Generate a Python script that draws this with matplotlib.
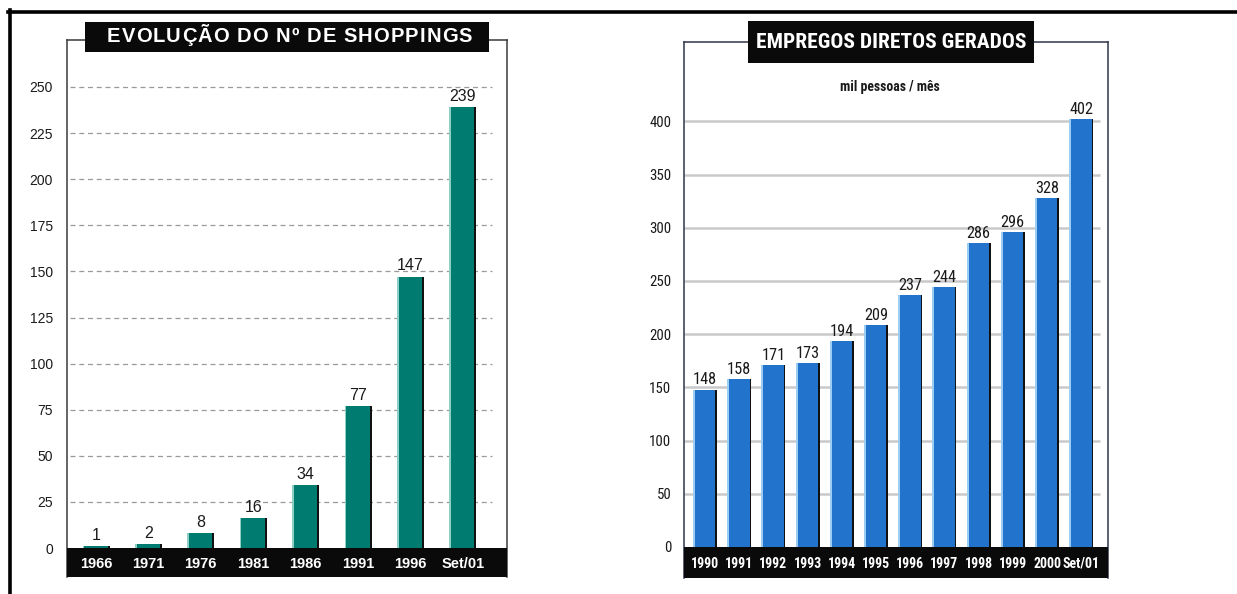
import matplotlib
matplotlib.use("Agg")
import matplotlib.pyplot as plt
from matplotlib import font_manager
from matplotlib.font_manager import FontProperties
from matplotlib.lines import Line2D
from matplotlib.patches import Rectangle
from matplotlib.textpath import TextToPath

W, H, DPI = 1237, 594, 100

shop_years = ["1966", "1971", "1976", "1981", "1986", "1991", "1996", "Set/01"]
shop_counts = [1, 2, 8, 16, 34, 77, 147, 239]
shop_ticks = [0, 25, 50, 75, 100, 125, 150, 175, 200, 225, 250]

job_years = ["1990", "1991", "1992", "1993", "1994", "1995", "1996", "1997",
             "1998", "1999", "2000", "Set/01"]
job_values = [148, 158, 171, 173, 194, 209, 237, 244, 286, 296, 328, 402]
job_ticks = [0, 50, 100, 150, 200, 250, 300, 350, 400]

SANS = "Liberation Sans"

# pick a condensed face for the right-hand chart if one is installed
_fonts = font_manager.fontManager.ttflist
_names = {f.name for f in _fonts}
NARROW, NARROW_STRETCH = SANS, "normal"
for cand in ("Liberation Sans Narrow", "Roboto Condensed", "Open Sans Condensed"):
    if cand in _names:
        NARROW = cand
        break
else:
    if any(f.name == "DejaVu Sans" and f.stretch == "condensed" for f in _fonts):
        NARROW, NARROW_STRETCH = "DejaVu Sans", "condensed"

t2p = TextToPath()


def px_rect(x0, y0, x1, y1):
    # pixel box (origin top-left) -> figure fraction [l, b, w, h]
    return [x0 / W, 1 - y1 / H, (x1 - x0) / W, (y1 - y0) / H]


def text_width_px(s, prop):
    w_with, _, _ = t2p.get_text_width_height_descent("|" + s + "|", prop, ismath=False)
    w_bars, _, _ = t2p.get_text_width_height_descent("||", prop, ismath=False)
    return (w_with - w_bars) * DPI / 72


def narrow(weight="normal", size=10):
    return FontProperties(family=NARROW, stretch=NARROW_STRETCH, weight=weight, size=size)


def fit_size(text, weight, width_px, cap):
    # font size (pt) at which the narrow face spans width_px, capped at cap
    w10 = text_width_px(text, narrow(weight, 10))
    return min(cap, 10 * width_px / w10)


def title_box(fig, text, box, prop, text_span=None):
    x0, y0, x1, y1 = box
    fig.add_artist(Rectangle((x0 / W, 1 - y1 / H), (x1 - x0) / W, (y1 - y0) / H,
                             transform=fig.transFigure, facecolor="#0a0a0a",
                             edgecolor="none", zorder=5))
    cy = 1 - (y0 + y1) / 2 / H
    if text_span is None:
        fig.text((x0 + x1) / 2 / W, cy, text, ha="center", va="center",
                 color="white", fontproperties=prop, zorder=6)
        return
    # letter-spaced title: place each glyph along the given span
    widths = [text_width_px(ch, prop) for ch in text]
    extra = (text_span[1] - text_span[0] - sum(widths)) / (len(text) - 1)
    x = text_span[0]
    for ch, w in zip(text, widths):
        fig.text(x / W, cy, ch, ha="left", va="center", color="white",
                 fontproperties=prop, zorder=6)
        x += w + extra


def shade_bars(ax, bars, light, frac_l, frac_r):
    for rect in bars:
        x, w, h = rect.get_x(), rect.get_width(), rect.get_height()
        ax.add_patch(Rectangle((x, 0), w * frac_l, h, facecolor=light,
                               edgecolor="none", zorder=3))
        ax.add_patch(Rectangle((x + w * (1 - frac_r), 0), w * frac_r, h,
                               facecolor="#111111", edgecolor="none", zorder=3))


fig = plt.figure(figsize=(W / DPI, H / DPI), dpi=DPI, facecolor="white")

# outer page border (top and left)
fig.add_artist(Line2D([8 / W, 1], [1 - 12 / H, 1 - 12 / H], color="black",
                      linewidth=2.6, transform=fig.transFigure, zorder=4))
fig.add_artist(Line2D([9.5 / W, 9.5 / W], [1 - 10 / H, 0], color="black",
                      linewidth=2.6, transform=fig.transFigure, zorder=4))

# ---------------- left chart: number of shopping centres ----------------
ax1 = fig.add_axes(px_rect(67, 40, 507, 577))
px_per_unit = 461 / 250
ax1.set_ylim(-(577 - 548) / px_per_unit, (548 - 40) / px_per_unit)
step1 = 52.4
ax1.set_xlim((67 - 96) / step1, (507 - 96) / step1)
x1 = list(range(len(shop_years)))

ax1.hlines(shop_ticks[1:], (70 - 96) / step1, (492 - 96) / step1,
           colors="#9a9a9a", linewidth=0.9, linestyles=(0, (4, 3)), zorder=1)
bars1 = ax1.bar(x1, shop_counts, width=27 / step1, color="#007b70", zorder=2)
shade_bars(ax1, bars1, "#8fd0c6", 0.06, 0.07)
ax1.bar_label(bars1, labels=[str(v) for v in shop_counts], padding=2.5,
              fontsize=11.5, family=SANS, color="#1a1a1a")

ylo1 = ax1.get_ylim()[0]
ax1.add_patch(Rectangle((ax1.get_xlim()[0], ylo1), ax1.get_xlim()[1] - ax1.get_xlim()[0],
                        -ylo1, facecolor="#0a0a0a", edgecolor="none", zorder=4))
for xi, lab in zip(x1, shop_years):
    ax1.text(xi, ylo1 / 2, lab, ha="center", va="center_baseline", color="white",
             fontsize=10.5, fontweight="bold", family=SANS, zorder=5)

ax1.set_yticks(shop_ticks)
ax1.set_yticklabels([str(t) for t in shop_ticks], fontsize=10, family=SANS,
                    color="#1a1a1a")
ax1.tick_params(axis="y", length=0, pad=10)
ax1.set_xticks([])
ax1.spines["bottom"].set_visible(False)
for side in ("left", "right", "top"):
    ax1.spines[side].set_color("#3a3a3a")
    ax1.spines[side].set_linewidth(1.1)

title_box(fig, "EVOLUÇÃO DO Nº DE SHOPPINGS", (85, 22, 489, 52),
          FontProperties(family=SANS, weight="bold", size=14.5), text_span=(107, 472))

# ---------------- right chart: direct jobs ----------------
ax2 = fig.add_axes(px_rect(684, 42, 1108, 578))
px_per_unit2 = 53.2 / 50
ax2.set_ylim(-(578 - 547) / px_per_unit2, (547 - 42) / px_per_unit2)
step2 = 34.2
ax2.set_xlim((684 - 705) / step2, (1108 - 705) / step2)
x2 = list(range(len(job_years)))

ax2.hlines(job_ticks[1:], ax2.get_xlim()[0], (1100 - 705) / step2,
           colors="#c9c9cc", linewidth=1.8, zorder=1)
bars2 = ax2.bar(x2, job_values, width=24 / step2, color="#2273cc", zorder=2)
shade_bars(ax2, bars2, "#9ccdf2", 0.08, 0.07)

val_size = fit_size("148", "normal", 24, 14)
ax2.bar_label(bars2, labels=[str(v) for v in job_values], padding=1.5,
              fontproperties=narrow("normal", val_size), color="#1a1a1a")

ylo2 = ax2.get_ylim()[0]
ax2.add_patch(Rectangle((ax2.get_xlim()[0], ylo2), ax2.get_xlim()[1] - ax2.get_xlim()[0],
                        -ylo2, facecolor="#0a0a0a", edgecolor="none", zorder=4))
year_size = fit_size("1990", "bold", 28, 12)
for xi, lab in zip(x2, job_years):
    ax2.text(xi, ylo2 / 2, lab, ha="center", va="center_baseline", color="white",
             fontproperties=narrow("bold", year_size), zorder=5)

tick_size = fit_size("400", "normal", 22, 12)
ax2.set_yticks(job_ticks)
ax2.set_yticklabels([str(t) for t in job_ticks], fontproperties=narrow("normal", tick_size),
                    color="#1a1a1a")
ax2.tick_params(axis="y", length=0, pad=9)
ax2.set_xticks([])
ax2.spines["bottom"].set_visible(False)
for side in ("left", "right", "top"):
    ax2.spines[side].set_color("#30344a")
    ax2.spines[side].set_linewidth(1.1)

title_size = fit_size("EMPREGOS DIRETOS GERADOS", "bold", 270, 20)
title_box(fig, "EMPREGOS DIRETOS GERADOS", (748, 21, 1034, 63), narrow("bold", title_size))
sub_size = fit_size("mil pessoas / mês", "bold", 100, 11)
fig.text(890 / W, 1 - 87 / H, "mil pessoas / mês", ha="center", va="center",
         fontproperties=narrow("bold", sub_size), color="#1a1a1a")

fig.savefig("out.png", dpi=DPI, facecolor="white")
